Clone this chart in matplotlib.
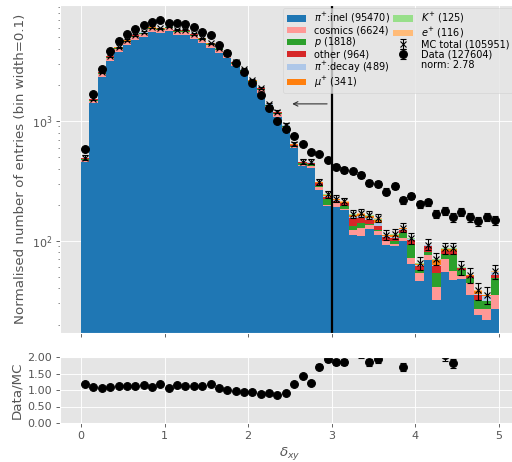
import numpy as np
import matplotlib
matplotlib.use('Agg')
import matplotlib.pyplot as plt
from matplotlib.lines import Line2D
from matplotlib.patches import Patch

# bins of delta_xy, width 0.1
bin_edges = np.round(np.arange(0, 5.01, 0.1), 2)
bin_centres = bin_edges[:-1] + 0.05

data = [588, 1679, 2730, 3852, 4617, 5345, 5875, 6349, 6683, 6947,
        6596, 6640, 6470, 6040, 5490, 5210, 4280, 3667, 3042, 2575,
        2061, 1647, 1275, 1005, 853, 750, 647, 552, 531, 473,
        416, 391, 381, 353, 303, 299, 258, 289, 218, 237,
        202, 210, 167, 178, 157, 173, 157, 146, 159, 148]

pi_inel = [451, 1405, 2348, 3193, 3760, 4313, 4785, 5035, 5541, 5415,
           5676, 5265, 5268, 4875, 4471, 4060, 3683, 3377, 2859, 2472,
           2000, 1726, 1264, 1090, 846, 592, 422, 404, 266, 196,
           193, 181, 112, 110, 126, 112, 92.6, 89.7, 100, 64.3,
           45.8, 68.6, 32.2, 54.5, 46.7, 48.2, 35.5, 24.2, 21.7, 27.1]
cosmics = [25, 77, 129, 175, 206, 237, 262, 276, 304, 297,
           311, 289, 289, 267, 245, 223, 202, 185, 157, 136,
           110, 95, 69, 60, 46, 20, 8, 18, 14, 4,
           14, 4, 10, 18, 10, 8, 7.4, 4.7, 5, 7.4,
           8, 7.8, 8.6, 16.3, 8.8, 2.9, 8.9, 2.9, 5.4, 8.4]
proton = [8, 26, 44, 60, 70, 80, 89, 94, 103, 101,
          106, 98, 98, 91, 83, 76, 69, 63, 53, 46,
          37, 32, 24, 20, 16, 12, 14, 16, 8, 24,
          4, 12, 10, 12, 3, 3.5, 0, 4.3, 10.8, 20.9,
          2.8, 4.5, 13, 6.6, 20.9, 6.2, 4.5, 5.1, 4.1, 13.4]
other = [4, 14, 23, 32, 37, 43, 47, 50, 55, 53,
         56, 52, 52, 48, 44, 40, 36, 33, 28, 24,
         20, 17, 12, 11, 8, 8, 7, 10, 14, 10,
         6, 8, 22, 15, 11, 10, 7, 6.5, 7.7, 9.3,
         4.5, 9.9, 8.1, 4.1, 5.1, 1.9, 1.5, 3.3, 0, 3.2]
pi_decay = [2, 8, 13, 18, 21, 24, 26, 28, 30, 30,
            31, 29, 29, 27, 25, 22, 20, 19, 16, 14,
            11, 9, 7, 6, 5, 4, 3, 4, 4, 4,
            3, 3, 5, 5, 5, 7, 2, 3, 1.5, 1,
            1.2, 0.7, 1, 1.5, 1.5, 0.3, 0.6, 0.3, 3.1, 2.8]
muon = [2, 6, 10, 14, 16, 19, 21, 22, 24, 24,
        25, 23, 23, 21, 20, 18, 16, 15, 13, 11,
        9, 8, 6, 5, 4, 3, 3, 4, 4, 5,
        3, 3, 6, 7, 7, 10, 2, 4, 3, 1.5,
        2, 1, 6.6, 3, 3, 0.3, 0.6, 2.3, 0.8, 0.4]
kaon = [1, 2, 4, 5, 6, 7, 8, 8, 9, 9,
        9, 9, 9, 8, 7, 7, 6, 6, 5, 4,
        3, 3, 2, 2, 1, 0.5, 0.5, 1, 1, 1,
        0.5, 1, 1, 1.5, 1.5, 2.5, 0.5, 1, 0.5, 0.3,
        0.4, 0.3, 0.8, 0.5, 0.5, 0.1, 0.2, 0.2, 0.2, 0.1]
positron = [1, 2, 4, 5, 6, 7, 8, 8, 9, 9,
            9, 9, 9, 8, 7, 7, 6, 6, 5, 4,
            3, 3, 2, 2, 1, 0.5, 0.5, 1, 1, 1,
            0.5, 1, 1, 1.5, 1.5, 2, 0.5, 0.8, 0.5, 0.3,
            0.3, 0.2, 0.7, 0.5, 0.5, 0.1, 0.2, 0.2, 0.2, 0.1]

labels = [r'$\pi^{+}$:inel (95470)', 'cosmics (6624)', r'$p$ (1818)',
          'other (964)', r'$\pi^{+}$:decay (489)', r'$\mu^{+}$ (341)',
          r'$K^{+}$ (125)', r'$e^{+}$ (116)']
colours = ['#1f77b4', '#ff9896', '#2ca02c', '#d62728',
           '#aec7e8', '#ff7f0e', '#98df8a', '#ffbb78']

plt.style.use('ggplot')

components = [pi_inel, cosmics, proton, other, pi_decay, muon, kaon, positron]
mc_total = np.sum(np.array(components, dtype=float), axis=0)
data = np.array(data, dtype=float)

fig = plt.figure(figsize=(6.4, 5.775), dpi=80)
ax = fig.add_axes([60 / 512, 1 - 333 / 462, 460 / 512, 328 / 462])
rax = fig.add_axes([60 / 512, 1 - 423 / 462, 460 / 512, 66 / 462], sharex=ax)

ax.hist([bin_centres] * len(components), bins=bin_edges, weights=components,
        stacked=True, histtype='stepfilled', color=colours, linewidth=0)
mc_eb = ax.errorbar(bin_centres, mc_total, yerr=np.sqrt(mc_total), fmt='x',
                    color='k', markersize=6, capsize=3, elinewidth=1)
data_eb = ax.errorbar(bin_centres, data, yerr=np.sqrt(data), fmt='o',
                      color='k', markersize=7, capsize=3, elinewidth=1)
ax.axvline(3, color='k', linewidth=2)
ax.annotate('', xy=(2.5, 1390), xytext=(2.97, 1390),
            arrowprops=dict(arrowstyle='->', color='#333333', lw=1))

ax.set_yscale('log')
ax.set_ylim(17, 9300)
ax.set_xlim(-0.25, 5.25)
ax.set_ylabel('Normalised number of entries (bin width=0.1)')
plt.setp(ax.get_xticklabels(), visible=False)

handles = [Patch(facecolor=c, edgecolor='none') for c in colours]
handles += [mc_eb, data_eb, Line2D([], [], linestyle='none')]
legend_labels = labels + ['MC total (105951)', 'Data (127604)', 'norm: 2.78']
ax.legend(handles, legend_labels, ncol=2, loc='upper right',
          bbox_to_anchor=(0.99, 1.0), fontsize=8.8,
          labelspacing=0.0, columnspacing=0.3, borderaxespad=0.3,
          borderpad=0.35, handleheight=0.6)

ratio = data / mc_total
rax.errorbar(bin_centres, ratio, yerr=np.sqrt(data) / mc_total, fmt='o',
             color='k', markersize=7, capsize=3, elinewidth=1)
rax.set_ylim(0, 2)
rax.set_yticks([0, 0.5, 1, 1.5, 2])
rax.set_yticklabels(['0.00', '0.50', '1.00', '1.50', '2.00'])
rax.set_ylabel('Data/MC')
rax.set_xlabel(r'$\delta_{xy}$')

fig.savefig('out.png', dpi=80)
